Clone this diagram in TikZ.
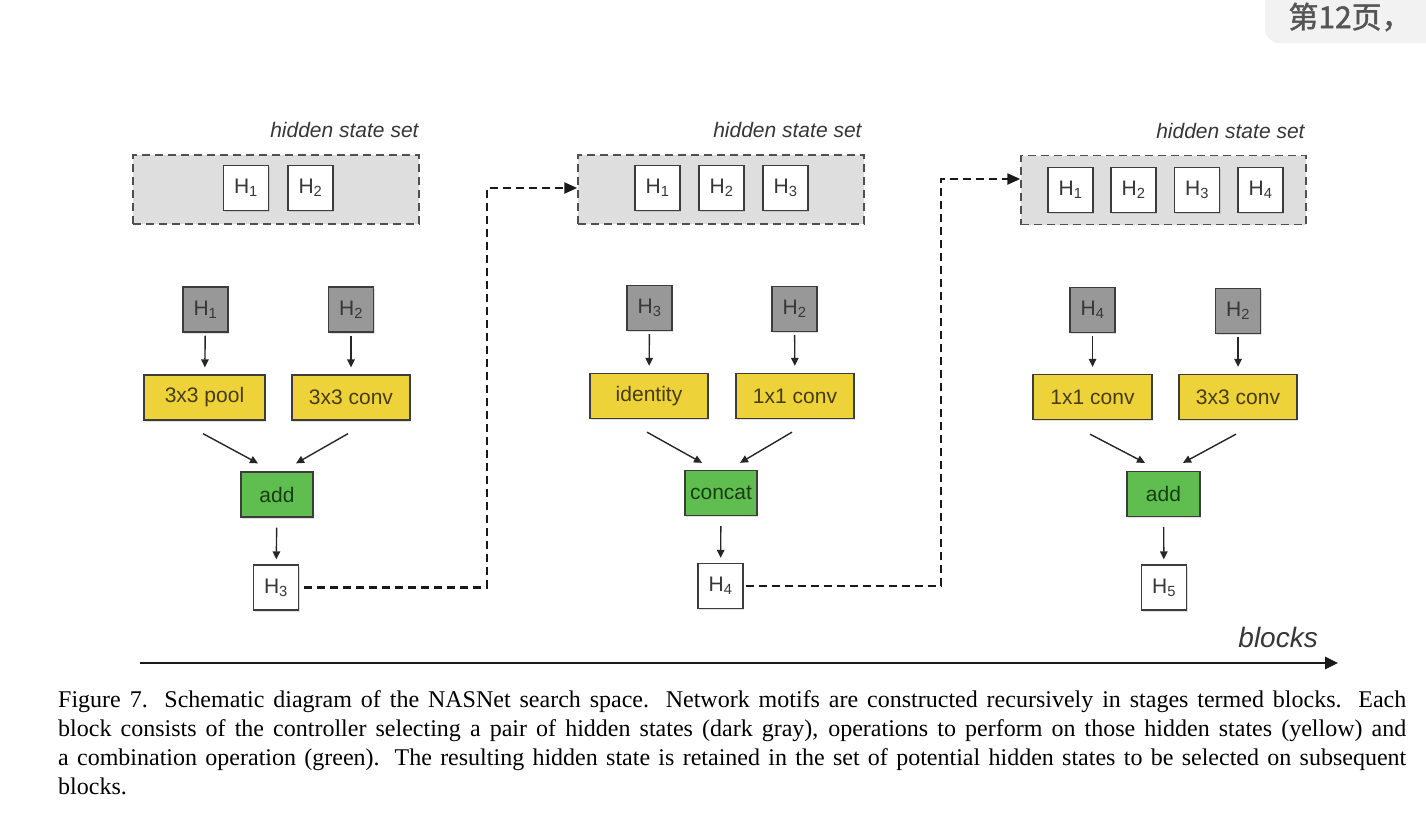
\documentclass[tikz,border=0pt]{standalone}
\usepackage{fontspec}
\setmainfont{Liberation Sans}
\newfontfamily\capfont{Liberation Serif}
\newfontfamily\cjkfont[FakeBold=1.5]{Noto Sans CJK SC}
\usetikzlibrary{arrows.meta,calc,shadows}
\definecolor{setgray}{RGB}{222,222,222}
\definecolor{selgray}{RGB}{152,152,152}
\definecolor{opyellow}{RGB}{238,210,58}
\definecolor{opgreen}{RGB}{96,190,80}
\definecolor{edgecol}{RGB}{60,60,60}
\definecolor{txtcol}{RGB}{55,55,55}
\definecolor{tabgray}{RGB}{242,242,242}
\newcommand\capline[1]{\makebox[1348pt][s]{#1}}
\tikzset{
  shadowed/.style={drop shadow={shadow xshift=1pt,shadow yshift=-1.5pt,opacity=0.25}},
  basebox/.style={draw=edgecol,line width=1.3pt,inner sep=0pt,shadowed,
    font=\fontsize{21}{24}\selectfont},
  whitebox/.style={basebox,fill=white,minimum width=45pt,minimum height=45pt,text=txtcol},
  graybox/.style={basebox,fill=selgray,minimum width=45pt,minimum height=45pt,text=txtcol},
  yellowbox/.style={basebox,fill=opyellow,minimum width=119pt,minimum height=45pt,text={rgb,255:red,70;green,60;blue,20}},
  greenbox/.style={basebox,fill=opgreen,minimum width=72pt,minimum height=45pt,text={rgb,255:red,25;green,60;blue,22}},
  setbox/.style={draw={rgb,255:red,80;green,80;blue,80},dash pattern=on 8pt off 5pt,line width=1.5pt,
    fill=setgray,minimum width=286pt,minimum height=69pt,inner sep=0pt},
  setlabel/.style={anchor=east,inner sep=0pt,text=txtcol,font=\itshape\fontsize{21}{24}\selectfont},
  arr/.style={draw=black!85,line width=1.4pt,-{Triangle[length=8pt,width=7.5pt]}},
  conn/.style={draw=black!90,line width=2.4pt,dash pattern=on 8pt off 5pt,-{Triangle[length=13pt,width=11pt]}},
}
\begin{document}
\begin{tikzpicture}[x=1pt,y=-1pt]
\useasboundingbox (0,0) rectangle (1426,817);
\fill[white] (0,0) rectangle (1426,817);
% page tab
\fill[tabgray,rounded corners=14pt] (1265,-30) rectangle (1460,43);
\node[inner sep=0pt,text={rgb,255:red,85;green,85;blue,85},font=\cjkfont\fontsize{30}{32}\selectfont] (tab) at (1350,17) {第12页，};

% ---------- block 1 ----------
\node[setbox] (set1) at (276,189.5) {};
\node[setlabel] (lab1) at ($(set1.north east)+(-1,-24)$) {hidden state set};
\node[whitebox] (s1h1) at (246,188) {H\textsubscript{1}};
\node[whitebox] (s1h2) at (310.5,188) {H\textsubscript{2}};

\node[graybox] (b1a) at (205.5,309.5) {H\textsubscript{1}};
\node[graybox] (b1b) at (351,309.5) {H\textsubscript{2}};
\node[yellowbox,minimum width=121pt] (b1opa) at (204.5,397.5) {3x3 pool};
\node[yellowbox,minimum width=118pt] (b1opb) at (351,397.5) {3x3 conv};
\node[greenbox] (b1c) at (277,494.5) {add};
\node[whitebox] (b1out) at (276,587.5) {H\textsubscript{3}};

\draw[arr,shorten <=3pt,shorten >=7pt] (b1a) -- (b1opa);
\draw[arr,shorten <=3pt,shorten >=7pt] (b1b) -- (b1opb);
\draw[arr] ($(b1opa.south)+(-1.5,13)$) -- ($(b1c.north)+(-19,-8)$);
\draw[arr] ($(b1opb.south)+(-3,13)$) -- ($(b1c.north)+(19,-8)$);
\draw[arr,shorten <=10pt,shorten >=5pt] (b1c) -- (b1out);

% ---------- block 2 ----------
\node[setbox] (set2) at (721,189.5) {};
\node[setlabel] (lab2) at ($(set2.north east)+(-3,-24)$) {hidden state set};
\node[whitebox] (s2h1) at (657.5,188) {H\textsubscript{1}};
\node[whitebox] (s2h2) at (721.5,188) {H\textsubscript{2}};
\node[whitebox] (s2h3) at (785.5,188) {H\textsubscript{3}};

\node[graybox] (b2a) at (649.5,308) {H\textsubscript{3}};
\node[graybox] (b2b) at (794.5,309) {H\textsubscript{2}};
\node[yellowbox,minimum width=118pt] (b2opa) at (649,396) {identity};
\node[yellowbox,minimum width=118pt] (b2opb) at (795,396) {1x1 conv};
\node[greenbox] (b2c) at (721,493) {concat};
\node[whitebox] (b2out) at (720.5,586) {H\textsubscript{4}};

\draw[arr,shorten <=3pt,shorten >=7pt] (b2a) -- (b2opa);
\draw[arr,shorten <=3pt,shorten >=7pt] (b2b) -- (b2opb);
\draw[arr] ($(b2opa.south)+(-2,13)$) -- ($(b2c.north)+(-19,-7)$);
\draw[arr] ($(b2opb.south)+(-3,13)$) -- ($(b2c.north)+(19,-7)$);
\draw[arr,shorten <=10pt,shorten >=5pt] (b2c) -- (b2out);

% ---------- block 3 ----------
\node[setbox,minimum width=285pt] (set3) at (1163.5,190) {};
\node[setlabel] (lab3) at ($(set3.north east)+(-2,-24)$) {hidden state set};
\node[whitebox] (s3h1) at (1070.5,190) {H\textsubscript{1}};
\node[whitebox] (s3h2) at (1133.5,190) {H\textsubscript{2}};
\node[whitebox] (s3h3) at (1197,190) {H\textsubscript{3}};
\node[whitebox] (s3h4) at (1260.5,190) {H\textsubscript{4}};

\node[graybox] (b3a) at (1092.5,310) {H\textsubscript{4}};
\node[graybox] (b3b) at (1238,311) {H\textsubscript{2}};
\node[yellowbox,minimum width=119pt] (b3opa) at (1092.5,397) {1x1 conv};
\node[yellowbox,minimum width=118pt] (b3opb) at (1238,397) {3x3 conv};
\node[greenbox,minimum width=73pt] (b3c) at (1163.5,494) {add};
\node[whitebox] (b3out) at (1164,587.5) {H\textsubscript{5}};

\draw[arr,shorten <=3pt,shorten >=7pt] (b3a) -- (b3opa);
\draw[arr,shorten <=3pt,shorten >=7pt] (b3b) -- (b3opb);
\draw[arr] ($(b3opa.south)+(-2.5,14)$) -- ($(b3c.north)+(-18.5,-8)$);
\draw[arr] ($(b3opb.south)+(-2,14)$) -- ($(b3c.north)+(19.5,-8)$);
\draw[arr,shorten <=10pt,shorten >=5pt] (b3c) -- (b3out);

% ---------- dashed connectors ----------
\coordinate (c1) at (487,188);
\coordinate (c2) at (941,179);
\draw[conn,shorten <=5pt] (b1out.east) -| (c1) -- (c1 -| set2.west);
\draw[conn,shorten <=2pt] (b2out.east) -| (c2) -- (c2 -| set3.west);

% ---------- blocks axis ----------
\coordinate (ax0) at (140,663);
\coordinate (ax1) at (1338,663);
\draw[draw=black!90,line width=2.8pt,-{Triangle[length=13pt,width=12pt]}] (ax0) -- (ax1);
\node[inner sep=0pt,anchor=east,text=txtcol,font=\itshape\fontsize{28}{30}\selectfont] (blk) at (1318,637) {blocks};

% ---------- caption ----------
\node[anchor=north west,inner sep=0pt,align=left,font=\capfont\fontsize{24}{29}\selectfont] (cap) at (58,690)
{\capline{Figure 7. Schematic diagram of the NASNet search space.  Network motifs are constructed recursively in stages termed blocks.  Each}\\
\capline{block consists of the controller selecting a pair of hidden states (dark gray), operations to perform on those hidden states (yellow) and}\\
\capline{a combination operation (green).  The resulting hidden state is retained in the set of potential hidden states to be selected on subsequent}\\
blocks.};
\end{tikzpicture}
\end{document}
